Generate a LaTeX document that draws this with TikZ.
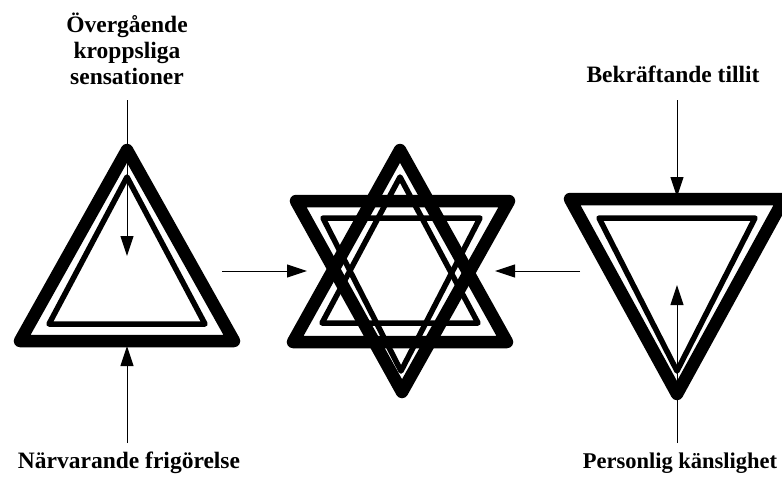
\documentclass[tikz,border=0pt]{standalone}
\usepackage{fontspec}
\setmainfont{Liberation Serif}
\usetikzlibrary{arrows.meta}
\begin{document}
\begin{tikzpicture}[x=1pt,y=-1pt,
  outer/.style={line width=12.5pt,line join=round,line cap=round},
  inner/.style={line width=5.5pt,line join=round},
  arr/.style={line width=1pt,-{Triangle[length=20pt,width=13pt]}},
  lab/.style={font=\fontsize{23.5}{26}\selectfont\bfseries,align=center,inner sep=0pt}]
\useasboundingbox (0,0) rectangle (782,477);
\clip (0,0) rectangle (782,477);
% left triangle
\draw[outer] (127,150) -- (20,341) -- (234,341) -- cycle;
\draw[inner] (127,177) -- (49,324) -- (205,324) -- cycle;
% star
\draw[outer] (400,150) -- (293,342) -- (507,342) -- cycle;
\draw[inner] (400,177) -- (322,323) -- (478,323) -- cycle;
\draw[outer] (296,201) -- (509,201) -- (402,392) -- cycle;
\draw[inner] (323,218) -- (480,218) -- (401,371) -- cycle;
% right triangle
\draw[outer] (570,199) -- (784,199) -- (677,394) -- cycle;
\draw[inner] (599,218) -- (755,218) -- (677,371) -- cycle;
% labels
\node[lab] (t1) at (127,49) {Övergående\\kroppsliga\\sensationer};
\node[lab] (t2) at (673,74) {Bekräftande tillit};
\node[lab] (t3) at (129,463) {Närvarande frigörelse};
\node[lab,font=\fontsize{22.5}{26}\selectfont\bfseries] (t4) at (680,463) {Personlig känslighet};
% arrow coordinates
\coordinate (a1s) at (127,100); \coordinate (a1e) at (127,256);
\coordinate (a2s) at (127,443); \coordinate (a2e) at (127,346);
\coordinate (a3s) at (677,100); \coordinate (a3e) at (677,197);
\coordinate (a4s) at (677,443); \coordinate (a4e) at (677,285);
\coordinate (a5s) at (222,271); \coordinate (a5e) at (307,271);
\coordinate (a6s) at (580,271); \coordinate (a6e) at (495,271);
\draw[arr] (a1s) -- (a1e);
\draw[arr] (a2s) -- (a2e);
\draw[arr] (a3s) -- (a3e);
\draw[arr] (a4s) -- (a4e);
\draw[arr] (a5s) -- (a5e);
\draw[arr] (a6s) -- (a6e);
\end{tikzpicture}
\end{document}
